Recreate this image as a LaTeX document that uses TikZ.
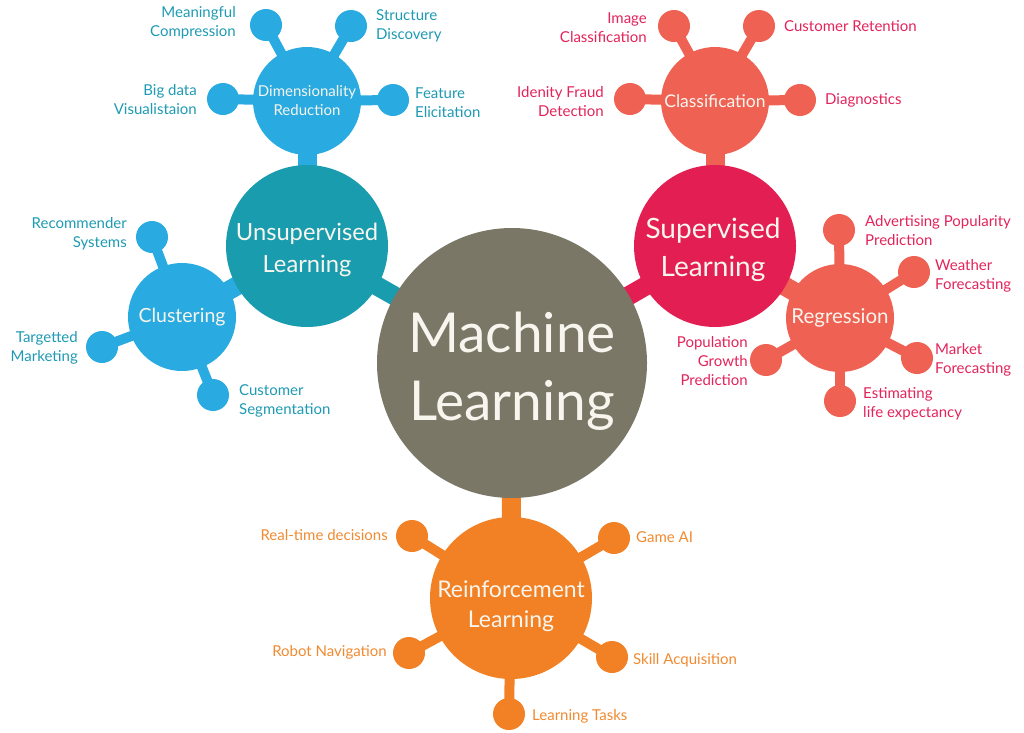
\documentclass[tikz,border=0pt]{standalone}
\usepackage{fontspec}
\setmainfont{Lato}
\usetikzlibrary{backgrounds}
\definecolor{mlgray}{HTML}{7A7767}
\definecolor{teal}{HTML}{199DAE}
\definecolor{lblue}{HTML}{29AAE1}
\definecolor{bluetxt}{HTML}{1E9AB3}
\definecolor{crimson}{HTML}{E31E52}
\definecolor{salmon}{HTML}{EF6253}
\definecolor{redtxt}{HTML}{E3235A}
\definecolor{orng}{HTML}{F18124}
\definecolor{orngtxt}{HTML}{F08A30}
\definecolor{cream}{HTML}{F8F5EE}
\tikzset{
  hub/.style={circle, inner sep=0pt, text=cream, align=center},
  dot/.style={circle, inner sep=0pt, minimum size=32pt},
  lbl/.style={inner sep=0pt, font=\fontsize{15}{19}\selectfont},
  lblL/.style={lbl, anchor=west, align=left},
  lblR/.style={lbl, anchor=east, align=right},
  bar/.style={line width=19pt},
  stem/.style={line width=10pt},
  htext/.style={inner sep=0pt, text=cream, align=center},
}
\begin{document}
\begin{tikzpicture}[x=1pt,y=-1pt]
\useasboundingbox (0,0) rectangle (1024,732);
% hubs
\node[hub, fill=mlgray, minimum size=270pt] (ml) at (512,363) {};
\node[htext, font=\fontsize{55}{68}\selectfont] (mlt) at (512,371) {Machine\\Learning};
\node[hub, fill=teal, minimum size=162pt] (ul) at (307,246) {};
\node[htext, font=\fontsize{23.7}{32}\selectfont] (ult) at (307,250) {Unsupervised\\Learning};
\node[hub, fill=lblue, minimum size=108pt, font=\fontsize{15}{19}\selectfont] (dr) at (307,101) {Dimensionality\\Reduction};
\node[hub, fill=lblue, minimum size=108pt, font=\fontsize{19.5}{24}\selectfont] (cl) at (182,317) {Clustering};
\node[hub, fill=crimson, minimum size=162pt] (sl) at (715,246) {};
\node[htext, font=\fontsize{28}{38}\selectfont] (slt) at (713,250) {Supervised\\Learning};
\node[hub, fill=salmon, minimum size=108pt, font=\fontsize{17.5}{22}\selectfont] (cf) at (715,101) {Classification};
\node[hub, fill=salmon, minimum size=108pt, font=\fontsize{20.5}{23}\selectfont] (rg) at (840,318) {Regression};
\node[hub, fill=orng, minimum size=162pt] (rl) at (511,598) {};
\node[htext, font=\fontsize{23}{30}\selectfont] (rlt) at (511,606) {Reinforcement\\Learning};
% dots
\node[dot, fill=lblue] (d1) at (266,25) {};
\node[dot, fill=lblue] (d2) at (351,26) {};
\node[dot, fill=lblue] (d3) at (223,99) {};
\node[dot, fill=lblue] (d4) at (393,100) {};
\node[dot, fill=lblue] (c1) at (152,237) {};
\node[dot, fill=lblue] (c2) at (102,347) {};
\node[dot, fill=lblue] (c3) at (213,395) {};
\node[dot, fill=salmon] (f1) at (674,26) {};
\node[dot, fill=salmon] (f2) at (759,26) {};
\node[dot, fill=salmon] (f3) at (630,99) {};
\node[dot, fill=salmon] (f4) at (800,100) {};
\node[dot, fill=salmon] (r1) at (839,230) {};
\node[dot, fill=salmon] (r2) at (914,272) {};
\node[dot, fill=salmon] (r3) at (917,358) {};
\node[dot, fill=salmon] (r4) at (840,401) {};
\node[dot, fill=salmon] (r5) at (766,360) {};
\node[dot, fill=orng] (o1) at (412,536) {};
\node[dot, fill=orng] (o2) at (409,653) {};
\node[dot, fill=orng] (o3) at (614,538) {};
\node[dot, fill=orng] (o4) at (612,657) {};
\node[dot, fill=orng] (o5) at (509,714) {};
% connectors
\begin{pgfonlayer}{background}
\draw[bar, teal] (ml.center) -- (ul.center);
\draw[bar, lblue] (ul.center) -- (dr.center);
\draw[bar, lblue] (ul.center) -- (cl.center);
\draw[bar, crimson] (ml.center) -- (sl.center);
\draw[bar, salmon] (sl.center) -- (cf.center);
\draw[bar, salmon] (sl.center) -- (rg.center);
\draw[bar, orng] (ml.center) -- (rl.center);
\foreach \d in {d1,d2,d3,d4} \draw[stem, lblue] (dr.center) -- (\d.center);
\foreach \d in {c1,c2,c3} \draw[stem, lblue] (cl.center) -- (\d.center);
\foreach \d in {f1,f2,f3,f4} \draw[stem, salmon] (cf.center) -- (\d.center);
\foreach \d in {r1,r2,r3,r4,r5} \draw[stem, salmon] (rg.center) -- (\d.center);
\foreach \d in {o1,o2,o3,o4,o5} \draw[stem, orng] (rl.center) -- (\d.center);
\end{pgfonlayer}
% labels
\node[lblR, text=bluetxt] (t1) at (236,23) {Meaningful\\Compression};
\node[lblL, text=bluetxt] (t2) at (376,26) {Structure\\Discovery};
\node[lblR, text=bluetxt] (t3) at (197,100) {Big data\\Visualistaion};
\node[lblL, text=bluetxt] (t4) at (415,103) {Feature\\Elicitation};
\node[lblR, text=bluetxt] (t5) at (127,234) {Recommender\\Systems};
\node[lblR, text=bluetxt] (t6) at (78,348) {Targetted\\Marketing};
\node[lblL, text=bluetxt] (t7) at (239,401) {Customer\\Segmentation};
\node[lblR, text=redtxt] (t8) at (647,28) {Image\\Classification};
\node[lblL, text=redtxt] (t9) at (784,26) {Customer Retention};
\node[lblR, text=redtxt] (t10) at (604,102) {Idenity Fraud\\Detection};
\node[lblL, text=redtxt] (t11) at (825,100) {Diagnostics};
\node[lblL, text=redtxt] (t12) at (865,231) {Advertising Popularity\\Prediction};
\node[lblL, text=redtxt] (t13) at (935,276) {Weather\\Forecasting};
\node[lblL, text=redtxt] (t14) at (935,360) {Market\\Forecasting};
\node[lblR, text=redtxt] (t15) at (748,361) {Population\\Growth\\Prediction};
\node[lblL, text=redtxt] (t16) at (863,404) {Estimating\\life expectancy};
\node[lblR, text=orngtxt] (t17) at (388,535) {Real-time decisions};
\node[lblR, text=orngtxt] (t18) at (387,652) {Robot Navigation};
\node[lblL, text=orngtxt] (t19) at (636,537) {Game AI};
\node[lblL, text=orngtxt] (t20) at (633,660) {Skill Acquisition};
\node[lblL, text=orngtxt] (t21) at (532,716) {Learning Tasks};
\end{tikzpicture}
\end{document}
